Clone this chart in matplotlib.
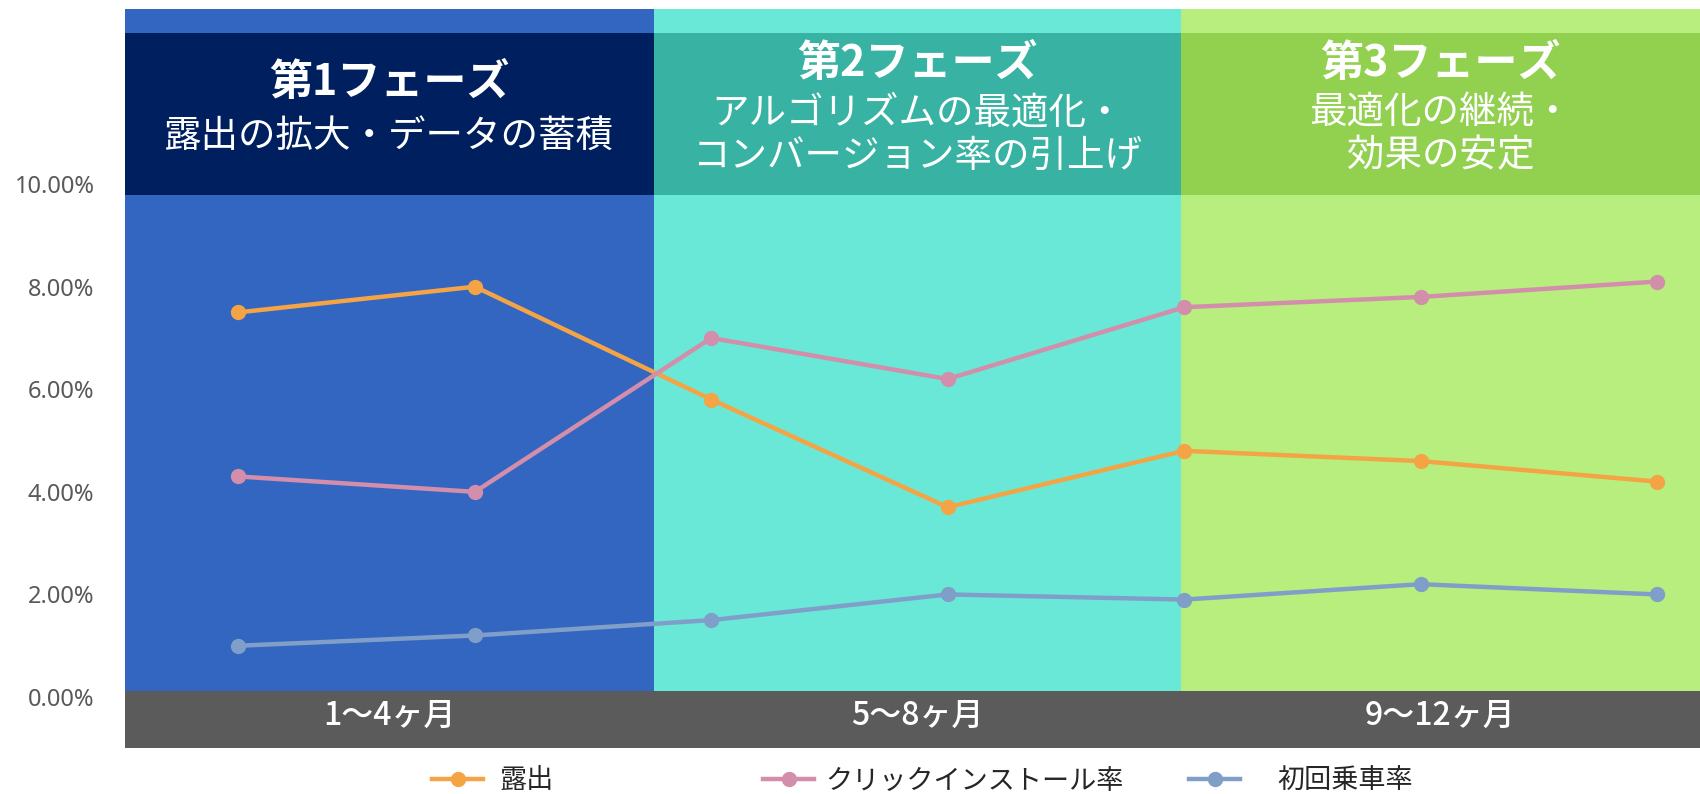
import matplotlib.pyplot as plt
from matplotlib.patches import Rectangle
from matplotlib.lines import Line2D

plt.rcParams['font.family'] = ['Noto Sans CJK JP', 'DejaVu Sans']

# ==================== データ ====================
months = ['1', '2', '3', '4', '5', '6', '7']
exposure = [7.5, 8.0, 5.8, 3.7, 4.8, 4.6, 4.2]          # 露出
click_install = [4.3, 4.0, 7.0, 6.2, 7.6, 7.8, 8.1]     # クリックインストール率
first_ride = [1.0, 1.2, 1.5, 2.0, 1.9, 2.2, 2.0]        # 初回乗車率
series_names = ['露出', 'クリックインストール率', '初回乗車率']

phase_titles = ['第1フェーズ', '第2フェーズ', '第3フェーズ']
phase_subtitles = ['露出の拡大・データの蓄積',
                   'アルゴリズムの最適化・\nコンバージョン率の引上げ',
                   '最適化の継続・\n効果の安定']
period_labels = ['1〜4ヶ月', '5〜8ヶ月', '9〜12ヶ月']
yticks = [0, 2, 4, 6, 8, 10]

# ==================== 色 ====================
bg_colors = ['#3366C0', '#69E8D8', '#B8EE7E']
head_colors = ['#001F5F', '#38B2A2', '#92D050']
line_colors = ['#F5A445', '#D28EAA', '#7F9FC8']
band_gray = '#5B5B5B'

# ==================== 絵 ====================
fig = plt.figure(figsize=(17, 7.94), dpi=100)
ax = fig.add_axes([125 / 1700, 1 - 748 / 794, 1 - 125 / 1700, (748 - 8.7) / 794])

x = list(range(len(months)))
ax.set_xlim(-0.48, 6.182)
ax.set_ylim(-0.994, 13.42)

edges = [-0.48, 1.757, 3.986, 6.182]
band_top = 0.125
for i in range(3):
    ax.add_patch(Rectangle((edges[i], band_top), edges[i + 1] - edges[i], 13.42 - band_top,
                           facecolor=bg_colors[i], edgecolor='none', zorder=0))
    ax.add_patch(Rectangle((edges[i], 9.79), edges[i + 1] - edges[i], 12.95 - 9.79,
                           facecolor=head_colors[i], edgecolor='none', zorder=1))
    cx = (edges[i] + edges[i + 1]) / 2
    if i == 0:
        ax.text(cx, 12.0, phase_titles[i], ha='center', va='center', color='white',
                fontsize=31, fontweight='bold', zorder=5)
        ax.text(cx, 10.94, phase_subtitles[i], ha='center', va='center', color='white',
                fontsize=27, zorder=5)
    else:
        ax.text(cx, 12.36, phase_titles[i], ha='center', va='center', color='white',
                fontsize=31, fontweight='bold', zorder=5)
        ax.text(cx, 10.97, phase_subtitles[i], ha='center', va='center', color='white',
                fontsize=27, linespacing=1.15, zorder=5)
    ax.text(cx, -0.37, period_labels[i], ha='center', va='center', color='white',
            fontsize=23, fontweight='medium', zorder=5)

ax.add_patch(Rectangle((edges[0], -0.994), edges[-1] - edges[0], band_top + 0.994,
                       facecolor=band_gray, edgecolor='none', zorder=1))

all_series = [exposure, click_install, first_ride]
for vals, c in zip(all_series, line_colors):
    ax.plot(x, vals, color=c, linewidth=3.2, marker='o', markersize=10, zorder=3)

ax.set_yticks(yticks)
ax.set_yticklabels(['{:.2f}%'.format(v) for v in yticks], fontsize=17, color='#595959',
                   family=['Noto Sans', 'DejaVu Sans'])
ax.tick_params(axis='y', length=0, pad=22)
ax.set_xticks([])
for s in ax.spines.values():
    s.set_visible(False)

# ==================== 凡例 ====================
legend_x = [432 / 1700, 763 / 1700, 1189 / 1700]
legend_pad = [0.6, 0.4, 1.35]
for name, c, lx, pad in zip(series_names, line_colors, legend_x, legend_pad):
    h = Line2D([], [], color=c, linewidth=3.2, marker='o', markersize=10)
    leg = fig.legend([h], [name], loc='center left', bbox_to_anchor=(lx, 1 - 781 / 794),
                     frameon=False, fontsize=19.5, handlelength=1.9, handletextpad=pad,
                     borderpad=0, borderaxespad=0)
    for t in leg.get_texts():
        t.set_color('#262626')

fig.savefig('out.png', dpi=100)
